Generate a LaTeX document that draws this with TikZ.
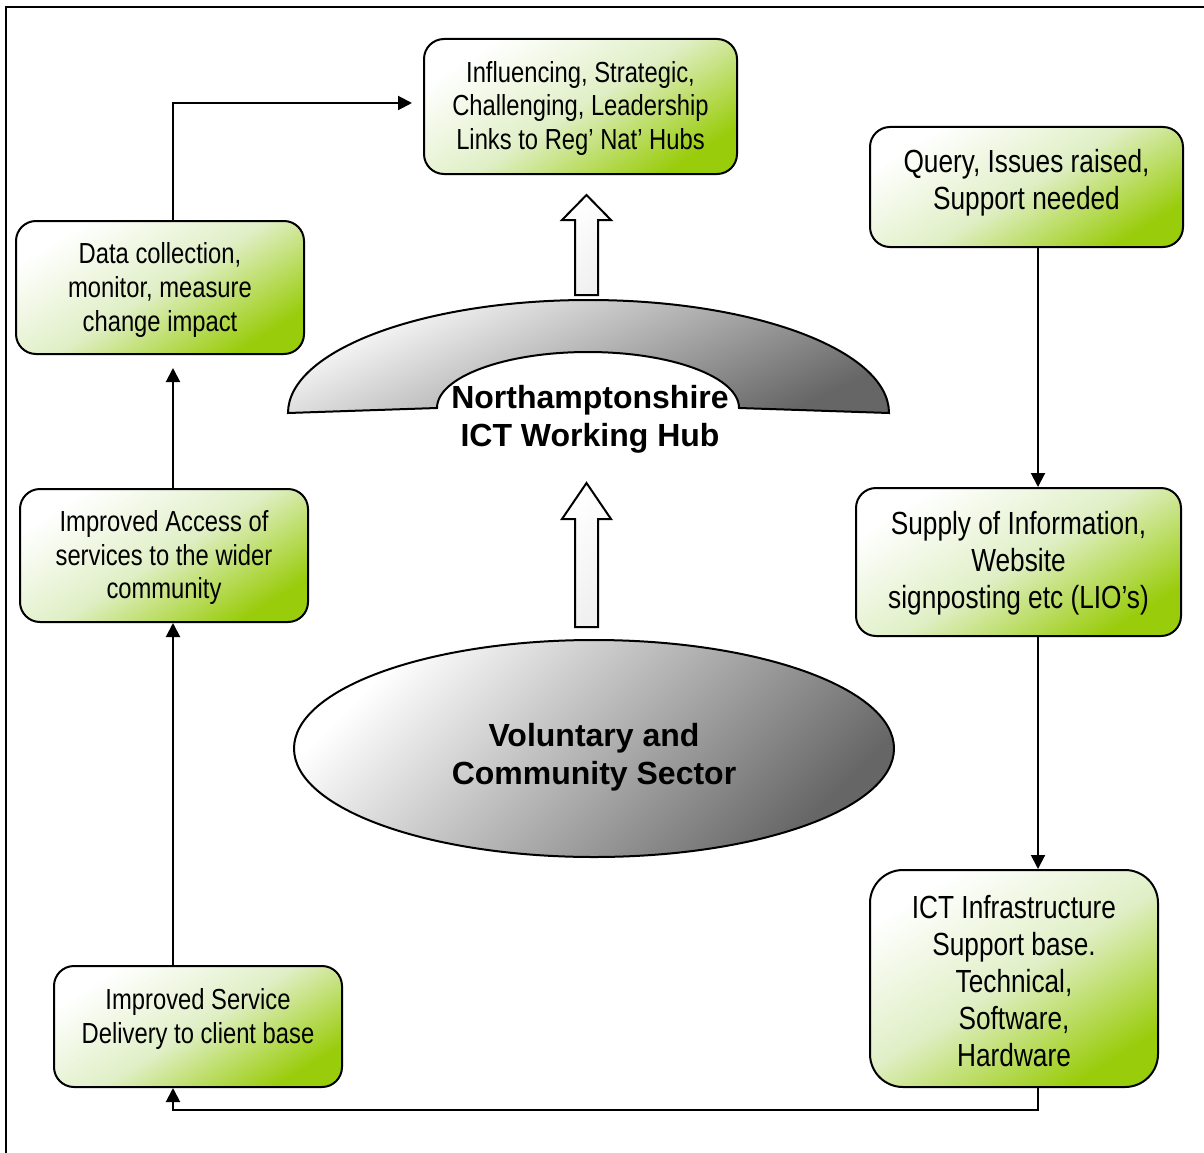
\documentclass[tikz,border=0pt]{standalone}
\usepackage{fontspec}
\setmainfont{Liberation Sans}
\newfontfamily\narrowfont[FakeStretch=0.82]{Liberation Sans}
\usetikzlibrary{arrows.meta,shapes.geometric}
\definecolor{gmid}{RGB}{224,239,198}
\definecolor{gend}{RGB}{153,204,10}
\begin{document}
\begin{tikzpicture}[x=1pt,y=-1pt,
  box/.style={draw=black, line width=2pt, rounded corners=20pt, inner sep=0pt,
     top color=white, bottom color=gend, middle color=gmid, shading angle=32},
  lt/.style={font=\narrowfont\fontsize{29}{33.5}\selectfont, align=center},
  rt/.style={font=\narrowfont\fontsize{32}{37}\selectfont, align=center},
  conn/.style={line width=2pt, -{Triangle[length=14pt,width=14pt]}},
  greyshade/.style={top color=white, bottom color=gray!80!black, shading angle=45},
  archshade/.style={top color=white, bottom color=gray!80!black, shading angle=25},
  blockarrow/.style={draw=black, line width=2pt, top color=white, bottom color=gray!12, shading angle=45},
  bigtext/.style={font=\bfseries\fontsize{32}{38}\selectfont, align=center}
]
\useasboundingbox (0,0) rectangle (1204,1153);
% frame
\draw[line width=2pt] (6,1153) -- (6,7) -- (1204,7);

% hub arch
\path[draw=black, line width=2pt, archshade]
  (288,413) arc[start angle=180, end angle=0, x radius=300.5pt, y radius=113pt]
  -- (739,408) arc[start angle=0, end angle=180, x radius=151pt, y radius=56pt]
  -- cycle;
\node[bigtext] (hubT) at (590,419) {Northamptonshire\\ICT Working Hub};

% ellipse
\node[ellipse, draw=black, line width=2pt, minimum width=600pt, minimum height=217pt,
  inner sep=0pt, greyshade] (vcs) at (594,748.5) {};
\node[bigtext] (vcsT) at (594,757) {Voluntary and\\Community Sector};

% block arrows
\draw[blockarrow] (575,295) -- (575,220) -- (562,220) -- (586.5,195) -- (611,220) -- (598,220) -- (598,295) -- cycle;
\draw[blockarrow] (575,627) -- (575,519) -- (562,519) -- (586.5,483) -- (611,519) -- (598,519) -- (598,627) -- cycle;

% boxes
\node[box, minimum width=313pt, minimum height=135pt] (infl) at (580.5,106.5) {};
\node[lt] (inflT) at (580.5,108.5) {Influencing, Strategic,\\Challenging, Leadership\\Links to Reg’ Nat’ Hubs};
\node[box, minimum width=313pt, minimum height=120pt] (query) at (1026.5,187) {};
\node[rt] (queryT) at (1026.5,182.5) {Query, Issues raised,\\Support needed};
\node[box, minimum width=288pt, minimum height=133pt] (data) at (160,287.5) {};
\node[lt] (dataT) at (160,290) {Data collection,\\monitor, measure\\change impact};
\node[box, minimum width=288pt, minimum height=133pt] (access) at (164,555.5) {};
\node[lt] (accessT) at (164,557.5) {Improved Access of\\services to the wider\\community};
\node[box, minimum width=325pt, minimum height=148pt] (supply) at (1018.5,562) {};
\node[rt] (supplyT) at (1018.5,563) {Supply of Information,\\Website\\signposting etc (LIO’s)};
\node[box, minimum width=288pt, minimum height=217pt, rounded corners=33pt] (ict) at (1014,978.5) {};
\node[rt] (ictT) at (1014,981.5) {ICT Infrastructure\\Support base.\\Technical,\\Software,\\Hardware};
\node[box, minimum width=288pt, minimum height=121pt] (service) at (198,1026.5) {};
\node[lt] (serviceT) at (198,1019) {Improved Service\\Delivery to client base};

% connectors
\coordinate (xl) at (173,0);
\coordinate (xr) at (1038,0);
\coordinate (ytop) at (0,103);
\coordinate (ybot) at (0,1110);
\draw[conn, shorten >=11pt] (data.north -| xl) -- (xl |- ytop) -- (infl.west |- ytop);
\draw[conn, shorten >=13pt] (access.north -| xl) -- (data.south -| xl);
\draw[conn] (service.north -| xl) -- (access.south -| xl);
\draw[conn] (query.south -| xr) -- (supply.north -| xr);
\draw[conn] (supply.south -| xr) -- (ict.north -| xr);
\draw[conn] (ict.south -| xr) -- (xr |- ybot) -- (xl |- ybot) -- (service.south -| xl);
\end{tikzpicture}
\end{document}
